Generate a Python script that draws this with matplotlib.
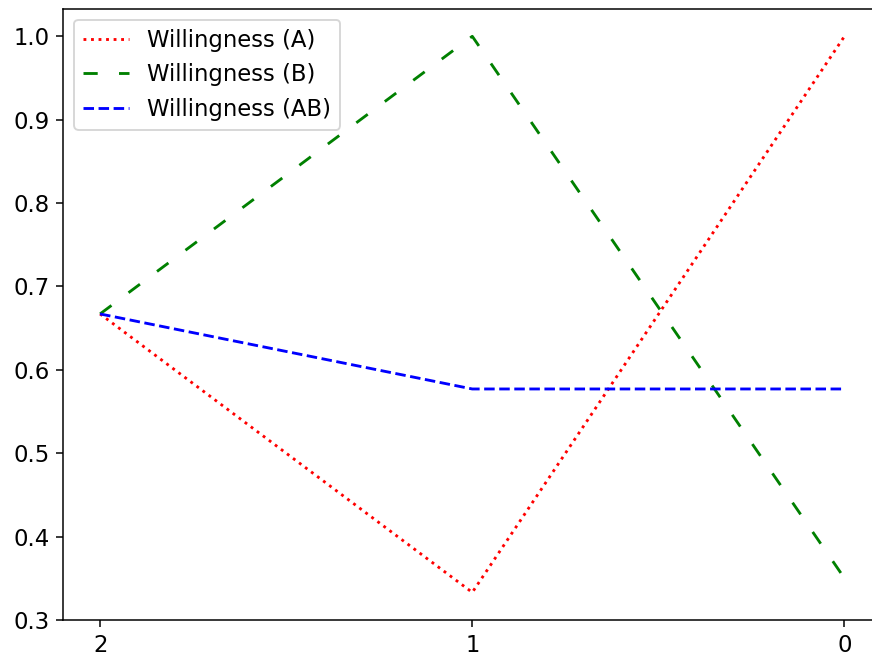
import matplotlib
matplotlib.use("Agg")
import matplotlib.pyplot as plt

x = [2, 1, 0]
will_a = [0.667, 0.333, 1.0]
will_b = [0.667, 1.0, 0.35]
will_ab = [0.667, 0.577, 0.577]

plt.rcParams["font.size"] = 12

fig, ax = plt.subplots(figsize=(6.4, 4.817), dpi=136.4)
fig.subplots_adjust(left=0.072, right=1.01, top=0.987, bottom=0.056)

ax.plot(x, will_a, color="red", linestyle=":", label="Willingness (A)")
ax.plot(x, will_b, color="green", linestyle=(0, (5, 7.5)), label="Willingness (B)")
ax.plot(x, will_ab, color="blue", linestyle="--", label="Willingness (AB)")

ax.set_xticks(x)
ax.invert_xaxis()
ax.legend(loc="upper left")

fig.savefig("out.png")
